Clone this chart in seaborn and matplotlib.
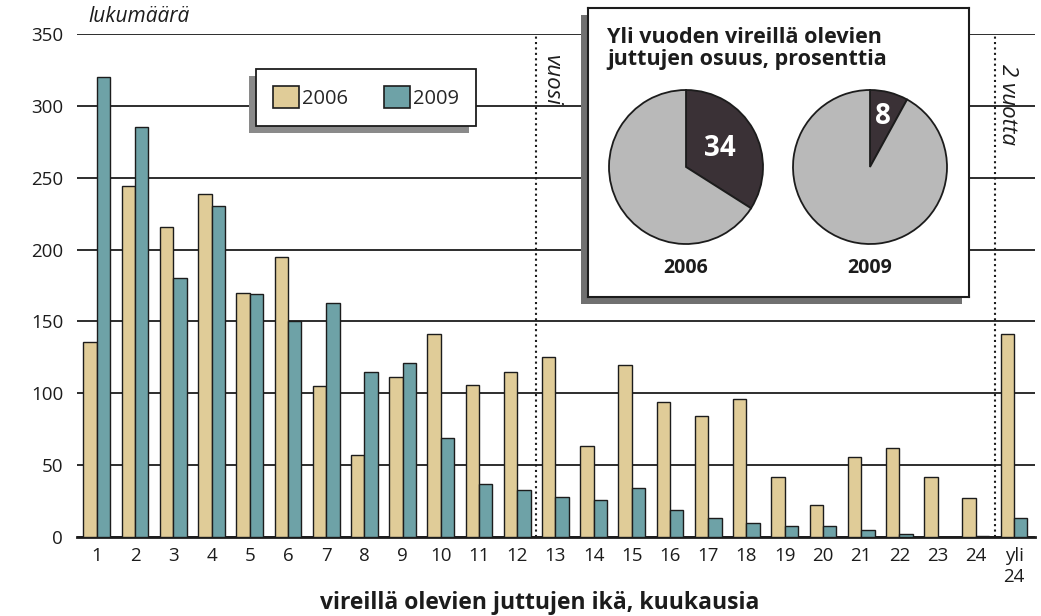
import numpy as np
import pandas as pd
import matplotlib
matplotlib.use("Agg")
import matplotlib.pyplot as plt
from matplotlib.patches import Patch, Rectangle
import seaborn as sns

# data
months = [str(i) for i in range(1, 25)] + ["yli\n24"]
cases_2006 = [136, 244, 216, 239, 170, 195, 105, 57, 111, 141, 106, 115,
              125, 63, 120, 94, 84, 96, 42, 22, 56, 62, 42, 27, 141]
cases_2009 = [320, 285, 180, 230, 169, 150, 163, 115, 121, 69, 37, 33,
              28, 26, 34, 19, 13, 10, 8, 8, 5, 2, 0, 1, 13]
years = ["2006", "2009"]
share_over_year = [34, 8]  # prosenttia
y_ticks = [0, 50, 100, 150, 200, 250, 300, 350]

TAN = "#e0cc98"
TEAL = "#6ea2a7"
DARK = "#3a3136"
LIGHT = "#b9b9b9"
INK = "#1c1c1c"

W, H = 1041, 616


def fig_box(x0, y0, x1, y1):
    """pixel box (top-left origin) -> figure fraction [l, b, w, h]"""
    return [x0 / W, 1 - y1 / H, (x1 - x0) / W, (y1 - y0) / H]


sns.set_style("white")
plt.rcParams["font.family"] = ["Open Sans", "DejaVu Sans"]

df = pd.DataFrame({
    "ikä": months * 2,
    "vuosi": [years[0]] * len(months) + [years[1]] * len(months),
    "lukumäärä": cases_2006 + cases_2009,
})

fig = plt.figure(figsize=(W / 100, H / 100), dpi=100)
fig.patch.set_facecolor("white")
ax = fig.add_axes(fig_box(77, 34, 1035, 537))

sns.barplot(data=df, x="ikä", y="lukumäärä", hue="vuosi",
            palette={years[0]: TAN, years[1]: TEAL}, saturation=1,
            width=0.7, gap=0, edgecolor=INK, linewidth=1.0, legend=False,
            ax=ax, zorder=3)

ax.set_xlim(-0.52, 24.55)
ax.set_ylim(0, 350)
ax.set_yticks(y_ticks)
ax.yaxis.grid(True, color=INK, linewidth=1.3)
ax.set_axisbelow(True)
for side in ["top", "right", "left"]:
    ax.spines[side].set_visible(False)
ax.spines["bottom"].set_color(INK)
ax.spines["bottom"].set_linewidth(2)
ax.tick_params(axis="y", length=0, pad=10, labelsize=13.5, labelcolor=INK)
ax.tick_params(axis="x", which="major", length=0, pad=7, labelsize=13.5, labelcolor=INK)
ax.set_xticks(np.arange(0.5, len(months) - 1, 1), minor=True)
ax.tick_params(axis="x", which="minor", direction="in", length=4, width=1.3, color=INK)
ax.set_ylabel("")
ax.set_xlabel("vireillä olevien juttujen ikä, kuukausia", fontsize=16.5,
              fontweight="bold", color=INK)
ax.xaxis.set_label_coords((540 - 77) / 958, -0.108)

# year markers
dots = (0, (1, 1.6))
ax.axvline(11.5, color=INK, lw=1.5, ls=dots, zorder=2)
ax.axvline(23.5, color=INK, lw=1.5, ls=dots, zorder=2)
ax.text(11.9, 318, "vuosi", rotation=270, style="italic", fontsize=16,
        ha="center", va="center", color=INK)
ax.text(23.82, 301, "2 vuotta", rotation=270, style="italic", fontsize=16,
        ha="center", va="center", color=INK)

fig.text(88 / W, 1 - 6 / H, "lukumäärä", style="italic", fontsize=15,
         ha="left", va="top", color=INK)

# legend
handles = [Patch(facecolor=TAN, edgecolor=INK, linewidth=1.2),
           Patch(facecolor=TEAL, edgecolor=INK, linewidth=1.2)]
leg = ax.legend(handles, years, loc="upper left",
                bbox_to_anchor=(256 / W, 1 - 69 / H), bbox_transform=fig.transFigure,
                borderaxespad=0, ncol=2, frameon=True, fancybox=False,
                edgecolor=INK, framealpha=1, fontsize=14.5, borderpad=0.85,
                handlelength=1.3, handleheight=1.3, handletextpad=0.15,
                columnspacing=1.75,
                shadow={"ox": -5, "oy": -5, "facecolor": "#8a8a8a",
                        "edgecolor": "none", "alpha": 1})
leg.get_frame().set_linewidth(1.3)
leg.set_zorder(10)

# inset with pies
sx, sy, sw, sh = fig_box(581, 15, 962, 304)
fig.patches.append(Rectangle((sx, sy), sw, sh, transform=fig.transFigure,
                             facecolor="#707070", edgecolor="none", zorder=4))
box = fig.add_axes(fig_box(588, 8, 969, 297), zorder=5)
box.set_facecolor("white")
box.set_xticks([])
box.set_yticks([])
for s in box.spines.values():
    s.set_color(INK)
    s.set_linewidth(1.5)
box.text(0.05, 0.935, "Yli vuoden vireillä olevien\njuttujen osuus, prosenttia",
         transform=box.transAxes, ha="left", va="top", fontsize=15.5,
         fontweight="bold", color=INK, linespacing=1.1)

pie_centres = [686, 870]
pct_dist = [0.5, 0.68]
for cx, year, share, pdist in zip(pie_centres, years, share_over_year, pct_dist):
    r = 77 * 1.04
    pax = fig.add_axes(fig_box(cx - r, 167 - r, cx + r, 167 + r), zorder=6)
    pax.pie([share, 100 - share], colors=[DARK, LIGHT], startangle=90,
            counterclock=False, radius=1 / 1.04,
            wedgeprops=dict(edgecolor=INK, linewidth=1.3),
            autopct=lambda p: f"{p:.0f}" if p < 50 else "", pctdistance=pdist,
            textprops=dict(color="white", fontsize=20, fontweight="bold"))
    pax.set_xlim(-1, 1)
    pax.set_ylim(-1, 1)
    pax.set_aspect("equal")
    pax.axis("off")
    box.text((cx - 588) / 381, (297 - 268) / 289, year, transform=box.transAxes,
             ha="center", va="center", fontsize=14, fontweight="bold", color=INK)

fig.savefig("out.png", dpi=100, facecolor="white")
